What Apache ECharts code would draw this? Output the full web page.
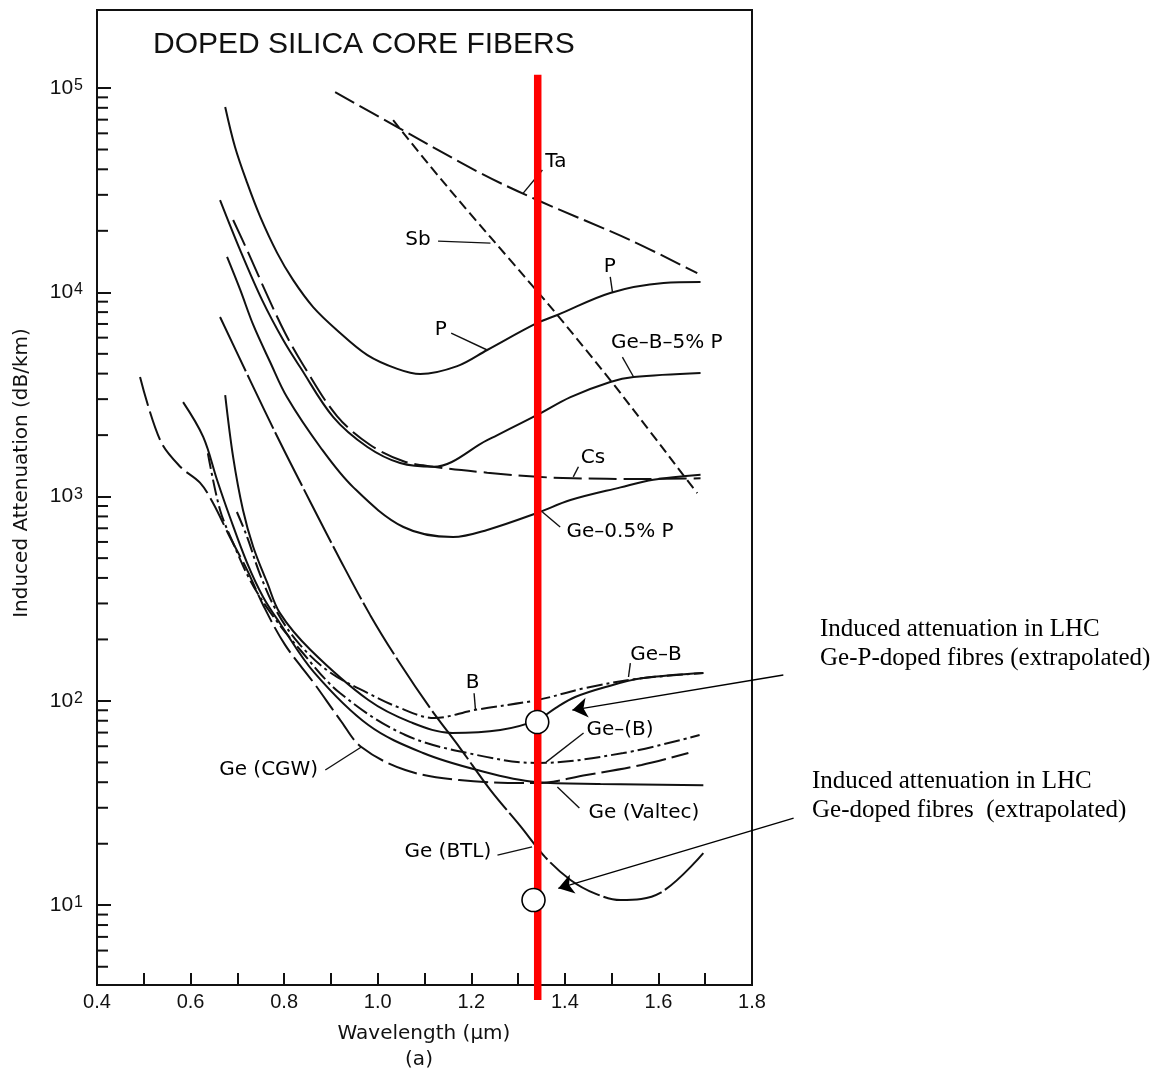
<!DOCTYPE html>
<html>
<head>
<meta charset="utf-8">
<title>Doped silica core fibers</title>
<script src="https://cdn.jsdelivr.net/npm/echarts@6.0.0/dist/echarts.min.js"></script>
<style>
html,body{margin:0;padding:0;background:#ffffff;}
#chart{width:1168px;height:1074px;}
</style>
</head>
<body>
<div id="chart"></div>
<script>
// ---------- data: wavelength (µm), induced attenuation (dB/km) ----------
const ta = [[0.909,95500],[1.042,64400],[1.219,38400],[1.341,28300],[1.540,18000],[1.683,12400]];
const sb = [[1.033,69600],[1.112,41500],[1.198,24200],[1.283,14400],[1.341,10100],[1.384,7740],[1.497,3720],[1.583,2070],[1.662,1200],[1.683,1040]];
const pDoped = [[0.674,80700],[0.695,51400],[0.721,34300],[0.749,23400],[0.785,15600],[0.819,11500],[0.862,8470],[0.913,6530],[0.978,4930],[1.042,4220],[1.091,3980],[1.170,4350],[1.234,5220],[1.341,7080],[1.384,7740],[1.497,9930],[1.611,11100],[1.690,11230]];
const geB5P = [[0.663,28300],[0.706,16100],[0.753,9160],[0.798,5840],[0.834,4310],[0.905,2450],[0.978,1750],[1.048,1460],[1.119,1400],[1.234,1890],[1.341,2510],[1.412,3070],[1.497,3640],[1.547,3850],[1.690,4030]];
const cs = [[0.691,22600],[0.723,15700],[0.761,10000],[0.802,6320],[0.841,4400],[0.913,2480],[0.984,1790],[1.055,1490],[1.119,1400],[1.234,1310],[1.341,1250],[1.418,1230],[1.561,1220],[1.690,1230]];
const ge05P = [[0.678,14900],[0.706,10300],[0.734,6920],[0.770,4560],[0.806,3070],[0.877,1750],[0.948,1110],[1.055,710],[1.161,634],[1.234,687],[1.341,832],[1.412,962],[1.519,1110],[1.589,1210],[1.690,1280]];
const geBTL = [[0.663,7570],[0.727,3720],[0.791,1850],[0.856,942],[0.920,490],[0.984,263],[1.048,152],[1.112,92.3],[1.176,58.8],[1.241,36.6],[1.305,24.4],[1.358,17.2],[1.412,13.3],[1.465,11.4],[1.519,10.6],[1.604,11.5],[1.696,18.0]];
const geB = [[0.674,3140],[0.691,1560],[0.712,860],[0.734,567],[0.764,378],[0.791,269],[0.856,178],[0.980,101],[1.070,78.8],[1.159,69.7],[1.262,72.1],[1.341,80.6],[1.380,92.3],[1.422,104.5],[1.487,117],[1.564,129],[1.696,137]];
const bDoped = [[0.699,841],[0.721,634],[0.749,413],[0.785,272],[0.834,188],[0.898,138],[0.980,109],[1.048,92.3],[1.121,82.4],[1.206,90.2],[1.341,101],[1.446,116],[1.564,129],[1.696,137]];
const geParenB = [[0.637,1630],[0.663,860],[0.691,593],[0.727,391],[0.770,272],[0.834,178],[0.920,109],[1.059,68.1],[1.213,54.3],[1.341,49.7],[1.525,55.6],[1.688,68.1]];
const geValtec = [[0.584,2900],[0.627,1960],[0.657,1200],[0.684,795],[0.721,473],[0.755,323],[0.791,240],[0.864,138],[0.980,76.2],[1.097,55.6],[1.213,45.9],[1.337,40.1],[1.476,39.2],[1.696,38.7]];
const geCGW = [[0.492,3850],[0.535,1890],[0.578,1400],[0.620,1170],[0.648,931],[0.684,634],[0.721,437],[0.755,295],[0.802,188],[0.864,122],[0.920,80.6],[0.965,59.5],[1.059,45.9],[1.174,41.0],[1.337,39.6],[1.446,43.4],[1.564,48.6],[1.664,55.6]];

// LHC marker line and extrapolated points
const redLine = [[1.342,116000],[1.342,3.44]];
const lhcPoints = [[1.341,78.8],[1.333,10.6]];
const arrows = [
  [[1.867,134],[1.416,90.2]],
  [[1.889,26.7],[1.386,12.1]]
];

// curve labels [text, wavelength, attenuation] and their leader lines
const curveLabels = [
  ['Ta',1.382,43500],['Sb',1.087,18000],['P',1.497,13200],['P',1.136,6540],
  ['Ge\u2013B\u20135% P',1.619,5650],['Cs',1.461,1545],['Ge\u20130.5% P',1.519,672],
  ['Ge\u2013B',1.596,168],['B',1.204,122],['Ge\u2013(B)',1.519,72.1],
  ['Ge (Valtec)',1.570,28.2],['Ge (CGW)',0.768,45.9],['Ge (BTL)',1.151,18.2]
];
const leaders = [
  [[1.311,30600],[1.352,39700]],
  [[1.129,17800],[1.241,17400]],
  [[1.497,11900],[1.502,9930]],
  [[1.157,6320],[1.234,5220]],
  [[1.523,4820],[1.547,3850]],
  [[1.429,1400],[1.418,1250]],
  [[1.390,710],[1.352,841]],
  [[1.540,153],[1.536,131]],
  [[1.206,109],[1.209,90.2]],
  [[1.440,69.7],[1.360,50.2]],
  [[1.431,29.9],[1.384,37.9]],
  [[0.888,45.9],[0.965,59.5]],
  [[1.256,17.6],[1.330,19.3]]
];

// axis tick values
const xMin = 0.4, xMax = 1.8, xStep = 0.1;
const yMin = 4.07, yMax = 240900;
const yMinorTicks = [5,6,7,8,9,20,30,40,50,60,70,80,90,200,300,400,500,600,700,800,900,
  2000,3000,4000,5000,6000,7000,8000,9000,20000,30000,40000,50000,60000,70000,80000,90000];

// ---------- chart ----------
const INK = '#111111';
const SANS = '"Liberation Sans", Arial, sans-serif';
const DEJA = '"DejaVu Sans", sans-serif';

function curve(name, data, dash) {
  return {
    name: name, type: 'line', data: data, symbol: 'none', showSymbol: false,
    smooth: 0.35, silent: true, z: 3,
    lineStyle: { color: INK, width: 2, type: dash || 'solid' }
  };
}

const chart = echarts.init(document.getElementById('chart'), null, { renderer: 'canvas' });

const option = {
  animation: false,
  backgroundColor: '#ffffff',
  grid: { left: 97, top: 10, width: 655, height: 975, show: true, borderColor: INK, borderWidth: 2, backgroundColor: 'transparent' },
  xAxis: {
    type: 'value', min: xMin, max: xMax, interval: xStep,
    axisLine: { show: true, lineStyle: { color: INK, width: 2 } },
    axisTick: { show: true, inside: true, length: 12, lineStyle: { color: INK, width: 2 } },
    splitLine: { show: false },
    axisLabel: {
      margin: 7, color: INK, fontFamily: SANS, fontSize: 20,
      formatter: function (v) { const k = Math.round(v * 10); return k % 2 === 0 ? (k / 10).toFixed(1) : ''; }
    }
  },
  yAxis: {
    type: 'log', logBase: 10, min: yMin, max: yMax,
    axisLine: { show: true, lineStyle: { color: INK, width: 2 } },
    axisTick: { show: true, inside: true, length: 14, lineStyle: { color: INK, width: 2 } },
    splitLine: { show: false },
    axisLabel: {
      margin: 14, showMinLabel: false, showMaxLabel: false,
      formatter: function (v) { return '{m|10}{s|' + Math.round(Math.log10(v)) + '}'; },
      rich: {
        m: { fontSize: 21, lineHeight: 21, fontFamily: SANS, color: INK, verticalAlign: 'middle' },
        s: { fontSize: 16, lineHeight: 16, fontFamily: SANS, color: INK, verticalAlign: 'top', padding: [0, 0, 18, 1] }
      }
    }
  },
  graphic: [
    { type: 'text', x: 153, y: 44.6, silent: true,
      style: { text: 'DOPED SILICA CORE FIBERS', font: '30px ' + SANS, fill: INK, align: 'left', verticalAlign: 'middle' } },
    { type: 'text', x: 22, y: 473, rotation: Math.PI / 2, silent: true,
      style: { text: 'Induced Attenuation (dB/km)', font: '20px ' + DEJA, fill: INK, align: 'center', verticalAlign: 'middle' } },
    { type: 'text', x: 424, y: 1034, silent: true,
      style: { text: 'Wavelength (\u03bcm)', font: '20px ' + DEJA, fill: INK, align: 'center', verticalAlign: 'middle' } },
    { type: 'text', x: 419, y: 1060, silent: true,
      style: { text: '(a)', font: '20px ' + DEJA, fill: INK, align: 'center', verticalAlign: 'middle' } },
    { type: 'text', x: 820, y: 615, silent: true,
      style: { text: 'Induced attenuation in LHC\nGe-P-doped fibres (extrapolated)', font: '25px "Liberation Serif", "Times New Roman", serif', lineHeight: 29, fill: '#000', align: 'left', verticalAlign: 'top' } },
    { type: 'text', x: 812, y: 767, silent: true,
      style: { text: 'Induced attenuation in LHC\nGe-doped fibres  (extrapolated)', font: '25px "Liberation Serif", "Times New Roman", serif', lineHeight: 29, fill: '#000', align: 'left', verticalAlign: 'top' } }
  ],
  series: [
    curve('Ta', ta, [22, 6]),
    curve('Sb', sb, [10, 5]),
    curve('P', pDoped),
    curve('Ge-B-5% P', geB5P),
    curve('Cs', cs, [28, 7]),
    curve('Ge-0.5% P', ge05P),
    curve('Ge (BTL)', geBTL, [60, 4]),
    curve('Ge-B', geB),
    curve('B', bDoped, [16, 4, 3, 4]),
    curve('Ge-(B)', geParenB, [16, 4, 3, 4]),
    curve('Ge (Valtec)', geValtec),
    curve('Ge (CGW)', geCGW, [30, 6]),
    {
      name: 'minor ticks', type: 'custom', silent: true, z: 4, clip: false,
      data: yMinorTicks.map(function (v) { return [xMin, v]; }),
      renderItem: function (params, api) {
        const p = api.coord([api.value(0), api.value(1)]);
        return { type: 'line', shape: { x1: p[0], y1: p[1], x2: p[0] + 11, y2: p[1] }, style: { stroke: INK, lineWidth: 2 } };
      }
    },
    {
      name: 'leaders', type: 'lines', coordinateSystem: 'cartesian2d', silent: true, z: 4, clip: false,
      symbol: 'none',
      lineStyle: { color: INK, width: 1.4, opacity: 1 },
      data: leaders.map(function (c) { return { coords: c }; })
    },
    {
      name: 'labels', type: 'scatter', silent: true, z: 4, clip: false,
      symbolSize: 1, itemStyle: { color: '#ffffff', opacity: 0 },
      label: { show: true, position: [0, 0], align: 'center', verticalAlign: 'middle', formatter: '{b}',
               color: '#000000', opacity: 1, fontFamily: DEJA, fontSize: 20, textBorderWidth: 0 },
      data: curveLabels.map(function (d) { return { name: d[0], value: [d[1], d[2]] }; })
    },
    {
      name: 'LHC line', type: 'line', data: redLine, symbol: 'none', silent: true, z: 6, clip: false,
      lineStyle: { color: '#ff0000', width: 7.5, cap: 'butt' }
    },
    {
      name: 'arrows', type: 'lines', coordinateSystem: 'cartesian2d', silent: true, z: 7, clip: false,
      symbol: ['none', 'arrow'], symbolSize: 15,
      lineStyle: { color: '#000', width: 1.4, opacity: 1 },
      data: arrows.map(function (c) { return { coords: c }; })
    },
    {
      name: 'LHC points', type: 'scatter', data: lhcPoints, symbol: 'circle', symbolSize: 23, silent: true, z: 8, clip: false,
      itemStyle: { color: '#ffffff', borderColor: '#000', borderWidth: 1.6, opacity: 1 }
    }
  ]
};
chart.setOption(option);
</script>
</body>
</html>
